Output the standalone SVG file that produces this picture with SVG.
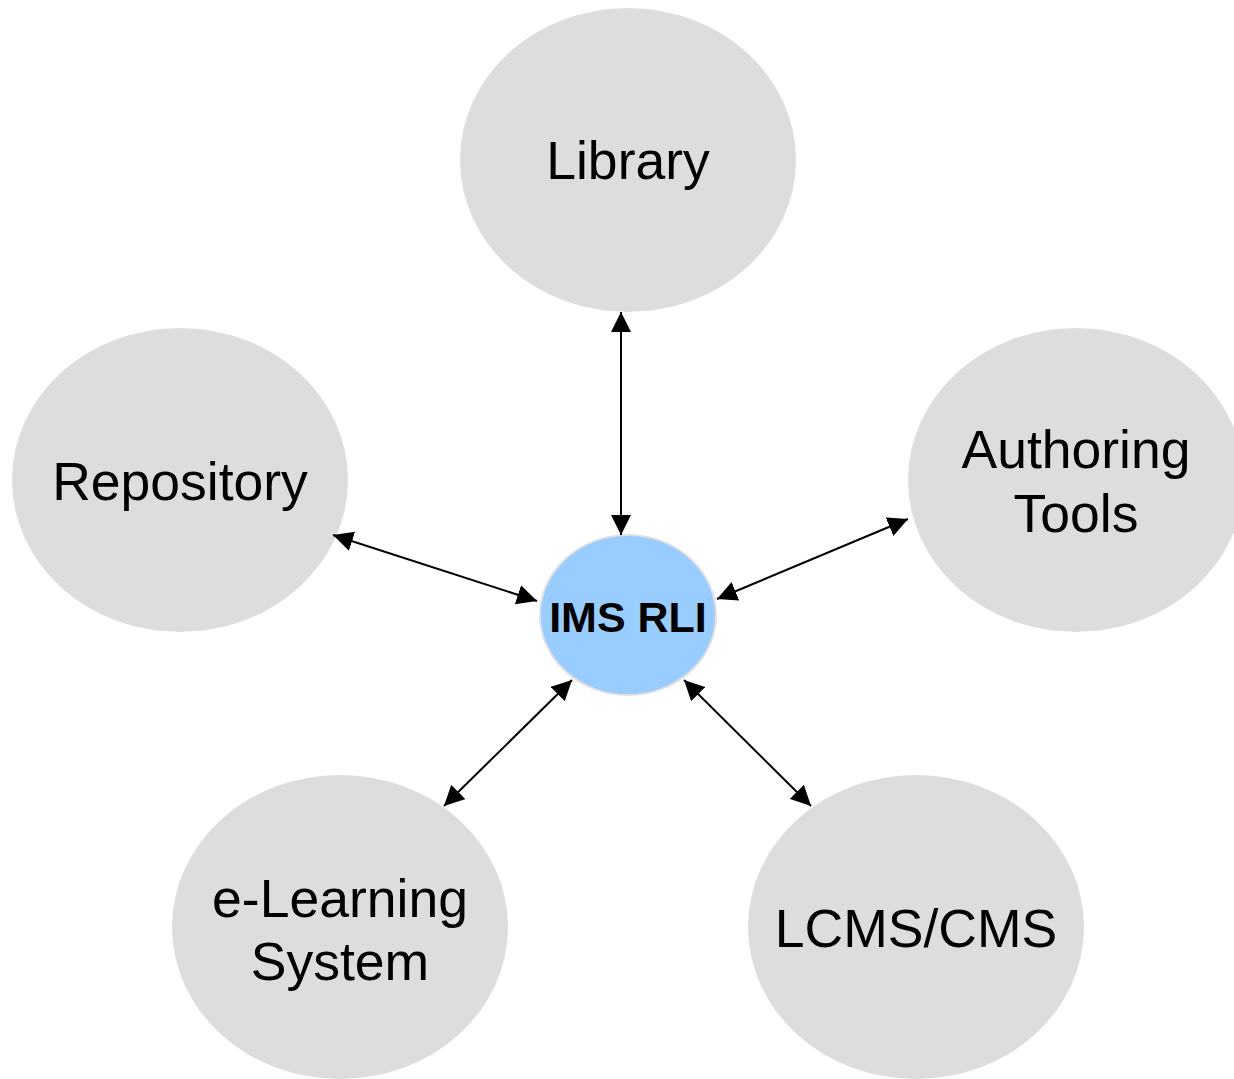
<svg xmlns="http://www.w3.org/2000/svg" width="1234" height="1079" viewBox="0 0 1234 1079">
<style>
.outer{fill:#dddddd;stroke:none}
.lbl{font-family:"Liberation Sans",Arial,sans-serif;font-size:53.5px;fill:#000;text-anchor:middle}
.center{fill:#99ccff;stroke:#e0e0e0;stroke-width:2}
.clbl{font-family:"Liberation Sans",Arial,sans-serif;font-size:43px;font-weight:bold;fill:#000;text-anchor:middle}
.conn{stroke:#000;stroke-width:2;fill:none;marker-start:url(#ah);marker-end:url(#ah)}
</style>
<defs>
<marker id="ah" viewBox="0 0 20 20" refX="20" refY="10" markerWidth="20" markerHeight="20" markerUnits="userSpaceOnUse" orient="auto-start-reverse">
<path d="M0,0 L20,10 L0,20 Z" fill="#000"/>
</marker>
</defs>
<rect width="1234" height="1079" fill="#fff"/>
<g id="library"><ellipse class="outer" cx="628" cy="160" rx="168" ry="152"/><text class="lbl" x="628" y="179">Library</text></g>
<g id="repository"><ellipse class="outer" cx="180" cy="480" rx="168" ry="152"/><text class="lbl" x="180" y="500">Repository</text></g>
<g id="authoring"><ellipse class="outer" cx="1076" cy="480" rx="168" ry="152"/><text class="lbl" x="1076" y="468">Authoring</text><text class="lbl" x="1076" y="532">Tools</text></g>
<g id="elearning"><ellipse class="outer" cx="340" cy="927" rx="168" ry="152"/><text class="lbl" x="340" y="917">e-Learning</text><text class="lbl" x="340" y="980">System</text></g>
<g id="lcms"><ellipse class="outer" cx="916" cy="927" rx="168" ry="152"/><text class="lbl" x="916" y="947">LCMS/CMS</text></g>
<g id="imsrli"><ellipse class="center" cx="628" cy="615" rx="88" ry="80"/><text class="clbl" x="628" y="632">IMS RLI</text></g>
<g id="connectors">
<line class="conn" x1="621" y1="312" x2="621" y2="535"/>
<line class="conn" x1="333" y1="535" x2="537" y2="601"/>
<line class="conn" x1="908" y1="519" x2="717" y2="599"/>
<line class="conn" x1="572" y1="680" x2="444" y2="806"/>
<line class="conn" x1="684" y1="680" x2="811" y2="806"/>
</g>
</svg>
